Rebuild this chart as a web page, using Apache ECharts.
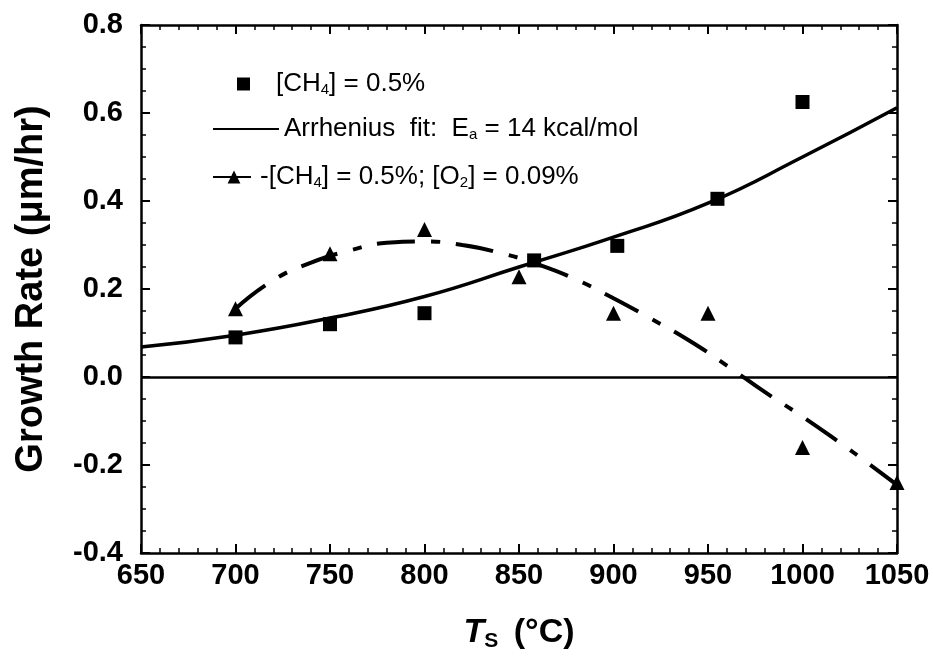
<!DOCTYPE html>
<html>
<head>
<meta charset="utf-8">
<script src="https://cdn.jsdelivr.net/npm/echarts@6/dist/echarts.min.js"></script>
<style>
html, body { margin: 0; background: #fff; }
#container { width: 933px; height: 660px; }
</style>
</head>
<body>
<div id="container"></div>
<script>
// measured growth rate, [CH4] = 0.5%
var squareTemps = [700, 750, 800, 858, 902, 955, 1000];
var squareRates = [0.09, 0.12, 0.145, 0.265, 0.298, 0.405, 0.625];
// measured growth rate, [CH4] = 0.5%; [O2] = 0.09%
var triTemps = [700, 750, 800, 850, 900, 950, 1000, 1050];
var triRates = [0.155, 0.28, 0.335, 0.228, 0.145, 0.145, -0.16, -0.24];
// Arrhenius fit
var fitTemps = [650, 700, 750, 800, 850, 900, 950, 1000, 1050];
var fitRates = [0.068, 0.095, 0.134, 0.183, 0.25, 0.318, 0.395, 0.5, 0.612];
// dash-dot guide curve through the O2 points
var trendTemps = [700, 720, 740, 760, 780, 800, 820, 840, 860, 880, 900, 920, 940, 960, 980, 1000, 1020, 1035, 1050];
var trendRates = [0.155, 0.22, 0.26, 0.287, 0.305, 0.308, 0.30, 0.282, 0.256, 0.222, 0.179, 0.132, 0.083, 0.026, -0.034, -0.09, -0.15, -0.197, -0.245];
// axis ticks
var xMin = 650, xMax = 1050, xStep = 50;
var yMin = -0.4, yMax = 0.8, yStep = 0.2;

function pairs(xs, ys) {
    return xs.map(function (x, i) { return [x, ys[i]]; });
}

var font = 'Liberation Sans';
var legendRich = {
    sub: { fontSize: 15, fontFamily: font, color: '#000', verticalAlign: 'bottom', padding: [12, 0, 0, 0] }
};
var axisLineStyle = { show: true, onZero: false, lineStyle: { color: '#000', width: 2.5 } };
var tickStyle = { show: true, inside: true, length: 9, lineStyle: { color: '#000', width: 2 } };

var myChart = echarts.init(document.getElementById('container'));
var option = {
    backgroundColor: '#fff',
    animation: false,
    grid: { left: 141, right: 36, top: 25, bottom: 107 },
    legend: [{
        data: ['sq'],
        left: 232, top: 66,
        itemWidth: 13, itemHeight: 13,
        selectedMode: false,
        formatter: function () { return '[CH{sub|4}] = 0.5%'; },
        textStyle: { fontSize: 26, fontFamily: font, color: '#000', padding: [0, 0, 0, 21], rich: legendRich }
    }, {
        data: [{ name: 'fit', itemStyle: { opacity: 0 } }],
        left: 207, top: 111,
        itemWidth: 66, itemHeight: 14,
        selectedMode: false,
        formatter: function () { return 'Arrhenius  fit:  E{sub|a} = 14 kcal/mol'; },
        textStyle: { fontSize: 26, fontFamily: font, color: '#000', rich: legendRich }
    }, {
        data: ['o2'],
        left: 207, top: 159,
        itemWidth: 42, itemHeight: 16,
        selectedMode: false,
        formatter: function () { return '-[CH{sub|4}] = 0.5%; [O{sub|2}] = 0.09%'; },
        textStyle: { fontSize: 26, fontFamily: font, color: '#000', rich: legendRich }
    }],
    xAxis: [{
        type: 'value', min: xMin, max: xMax, interval: xStep,
        name: '{it|T}{sub|S} (°C)',
        nameLocation: 'middle', nameGap: 60,
        nameTextStyle: {
            fontSize: 34, fontWeight: 'bold', fontFamily: font, color: '#000',
            rich: {
                it: { fontSize: 34, fontWeight: 'bold', fontStyle: 'italic', fontFamily: font, color: '#000' },
                sub: { fontSize: 21, fontWeight: 'bold', fontFamily: font, color: '#000', verticalAlign: 'bottom', padding: [18, 6, 0, 0] }
            }
        },
        axisLine: axisLineStyle,
        axisTick: tickStyle,
        minorTick: { show: true, splitNumber: 5, length: 5, lineStyle: { color: '#000', width: 1.5 } },
        axisLabel: {
            fontSize: 29, fontWeight: 'bold', fontFamily: font, color: '#000', margin: 8,
            formatter: function (v) { return String(v); }
        },
        splitLine: { show: false }
    }, {
        type: 'value', min: xMin, max: xMax, interval: xStep, position: 'top',
        axisLine: axisLineStyle,
        axisTick: tickStyle,
        minorTick: { show: true, splitNumber: 5, length: 5, lineStyle: { color: '#000', width: 1.5 } },
        axisLabel: { show: false },
        splitLine: { show: false }
    }],
    yAxis: [{
        type: 'value', min: yMin, max: yMax, interval: yStep,
        name: 'Growth Rate (μm/hr)',
        nameLocation: 'middle', nameGap: 90,
        nameTextStyle: { fontSize: 38, fontWeight: 'bold', fontFamily: font, color: '#000' },
        axisLine: axisLineStyle,
        axisTick: tickStyle,
        minorTick: { show: true, splitNumber: 4, length: 5, lineStyle: { color: '#000', width: 1.5 } },
        axisLabel: {
            fontSize: 29, fontWeight: 'bold', fontFamily: font, color: '#000', margin: 18,
            formatter: function (v) { return v.toFixed(1); }
        },
        splitLine: { show: false }
    }, {
        type: 'value', min: yMin, max: yMax, interval: yStep, position: 'right',
        axisLine: axisLineStyle,
        axisTick: tickStyle,
        minorTick: { show: true, splitNumber: 4, length: 5, lineStyle: { color: '#000', width: 1.5 } },
        axisLabel: { show: false },
        splitLine: { show: false }
    }],
    series: [{
        name: 'fit',
        type: 'line',
        smooth: true,
        symbol: 'none',
        lineStyle: { color: '#000', width: 3.5 },
        itemStyle: { color: '#000' },
        data: pairs(fitTemps, fitRates),
        markLine: {
            silent: true,
            symbol: 'none',
            label: { show: false },
            lineStyle: { color: '#000', width: 2.5, type: 'solid' },
            data: [{ yAxis: 0 }]
        }
    }, {
        name: 'o2',
        type: 'line',
        smooth: true,
        symbol: 'triangle',
        showSymbol: false,
        lineStyle: { color: '#000', width: 4, type: [38, 16, 9, 16] },
        itemStyle: { color: '#000' },
        data: pairs(trendTemps, trendRates)
    }, {
        name: 'sq',
        type: 'scatter',
        symbol: 'rect',
        symbolSize: 14,
        itemStyle: { color: '#000', opacity: 1 },
        data: pairs(squareTemps, squareRates)
    }, {
        name: 'tri',
        type: 'scatter',
        symbol: 'triangle',
        symbolSize: 15,
        itemStyle: { color: '#000', opacity: 1 },
        data: pairs(triTemps, triRates)
    }]
};
myChart.setOption(option);
</script>
</body>
</html>
